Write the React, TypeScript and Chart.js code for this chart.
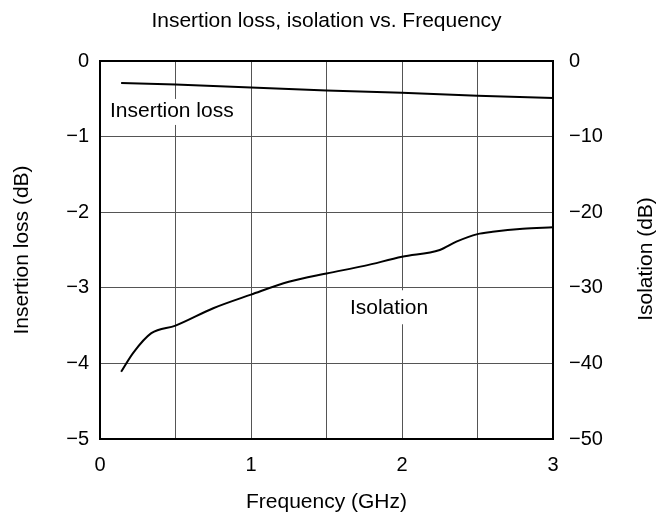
import React, { useEffect, useRef } from "react";
import { Chart, registerables } from "chart.js";

Chart.register(...registerables);

const chartTitle = "Insertion loss, isolation vs. Frequency";
const xTitle = "Frequency (GHz)";
const yLeftTitle = "Insertion loss (dB)";
const yRightTitle = "Isolation (dB)";

const ilFreq = [0.14, 0.5, 1.0, 1.5, 2.0, 2.5, 3.0];
const ilValues = [-0.29, -0.31, -0.35, -0.39, -0.42, -0.46, -0.49];

const isoFreq = [0.14, 0.22, 0.34, 0.5, 0.75, 1.0, 1.25, 1.5, 1.75, 2.0, 2.25, 2.36, 2.5, 2.6, 2.8, 3.0];
const isoValues = [-41.1, -38.6, -36.0, -35.0, -32.7, -30.9, -29.2, -28.1, -27.1, -25.9, -25.0, -23.9, -22.9, -22.6, -22.2, -22.0];

const xTickLabels = ["0", "1", "2", "3"];
const ilLabel = { text: "Insertion loss", x: 0.066, y: -0.74 };
const isoLabel = { text: "Isolation", x: 1.914, y: -33.5 };

const FONT = "'Liberation Sans', Arial, sans-serif";
const fmt = (v: number) => (v < 0 ? "\u2212" + Math.abs(v) : String(v));

export default function App() {
  const ref = useRef<HTMLCanvasElement | null>(null);
  useEffect(() => {
    if (!ref.current) return;
    const textPlugin = {
      id: "texts",
      beforeDatasetsDraw(chart: any) {
        const ctx = chart.ctx;
        const xs = chart.scales.x;
        const yl = chart.scales.y;
        const yr = chart.scales.y2;
        ctx.save();
        ctx.font = `21px ${FONT}`;
        ctx.textBaseline = "alphabetic";
        // Insertion loss label
        {
          const px = xs.getPixelForValue(ilLabel.x);
          const py = yl.getPixelForValue(ilLabel.y);
          const w = ctx.measureText(ilLabel.text).width;
          ctx.fillStyle = "#fff";
          ctx.fillRect(px - 3, py - 18, w + 6, 26);
          ctx.fillStyle = "#000";
          ctx.textAlign = "left";
          ctx.fillText(ilLabel.text, px, py);
        }
        {
          const px = xs.getPixelForValue(isoLabel.x);
          const py = yr.getPixelForValue(isoLabel.y);
          const w = ctx.measureText(isoLabel.text).width;
          ctx.fillStyle = "#fff";
          ctx.fillRect(px - w / 2 - 3, py - 24, w + 6, 34);
          ctx.fillStyle = "#000";
          ctx.textAlign = "center";
          ctx.fillText(isoLabel.text, px, py);
        }
        ctx.restore();
      },
      afterDraw(chart: any) {
        const ctx = chart.ctx;
        const a = chart.chartArea;
        ctx.save();
        ctx.strokeStyle = "#000";
        ctx.lineWidth = 2;
        ctx.strokeRect(a.left, a.top, a.right - a.left, a.bottom - a.top);
        ctx.fillStyle = "#000";
        ctx.font = `21px ${FONT}`;
        ctx.textBaseline = "alphabetic";
        ctx.textAlign = "center";
        const cx = (a.left + a.right) / 2;
        ctx.fillText(chartTitle, cx, 27);
        ctx.fillText(xTitle, cx, a.bottom + 69);
        // left title
        ctx.save();
        ctx.translate(28, (a.top + a.bottom) / 2);
        ctx.rotate(-Math.PI / 2);
        ctx.fillText(yLeftTitle, 0, 0);
        ctx.restore();
        // right title (reads bottom to top)
        ctx.save();
        ctx.translate(652, 259);
        ctx.rotate(-Math.PI / 2);
        ctx.fillText(yRightTitle, 0, 0);
        ctx.restore();
        ctx.restore();
      },
    };

    const chart = new Chart(ref.current, {
      type: "line",
      data: {
        datasets: [
          {
            label: "Insertion loss",
            data: ilFreq.map((x, i) => ({ x, y: ilValues[i] })),
            yAxisID: "y",
            borderColor: "#000",
            borderWidth: 2,
            pointRadius: 0,
            tension: 0,
          },
          {
            label: "Isolation",
            data: isoFreq.map((x, i) => ({ x, y: isoValues[i] })),
            yAxisID: "y2",
            borderColor: "#000",
            borderWidth: 2,
            pointRadius: 0,
            cubicInterpolationMode: "monotone",
          },
        ],
      },
      options: {
        responsive: false,
        animation: false,
        layout: { padding: { top: 61, left: 0, right: 0, bottom: 0 } },
        plugins: { legend: { display: false }, title: { display: false }, tooltip: { enabled: false } },
        scales: {
          x: {
            type: "linear",
            min: 0,
            max: 3,
            border: { display: false },
            grid: { color: "#555", lineWidth: 1, drawTicks: false },
            ticks: {
              stepSize: 0.5,
              padding: 14,
              color: "#000",
              font: { size: 20, family: FONT },
              maxRotation: 0,
              autoSkip: false,
              callback: (v: any) => (Number.isInteger(v) ? xTickLabels[v] ?? String(v) : ""),
            },
            afterFit: (s: any) => {
              s.height = 78;
            },
          },
          y: {
            position: "left",
            min: -5,
            max: 0,
            border: { display: false },
            grid: { color: "#555", lineWidth: 1, drawTicks: false },
            ticks: {
              stepSize: 1,
              padding: 11,
              color: "#000",
              font: { size: 20, family: FONT },
              callback: (v: any) => fmt(v),
            },
            afterFit: (s: any) => {
              s.width = 100;
            },
          },
          y2: {
            position: "right",
            min: -50,
            max: 0,
            border: { display: false },
            grid: { drawOnChartArea: false, drawTicks: false },
            ticks: {
              stepSize: 10,
              padding: 16,
              color: "#000",
              font: { size: 20, family: FONT },
              callback: (v: any) => fmt(v),
            },
            afterFit: (s: any) => {
              s.width = 104;
            },
          },
        },
      },
      plugins: [textPlugin],
    } as any);
    return () => chart.destroy();
  }, []);

  return (
    <div style={{ position: "absolute", left: 0, top: 0, width: 657, height: 517, background: "#fff" }}>
      <canvas ref={ref} width={657} height={517} style={{ width: 657, height: 517 }} />
    </div>
  );
}
